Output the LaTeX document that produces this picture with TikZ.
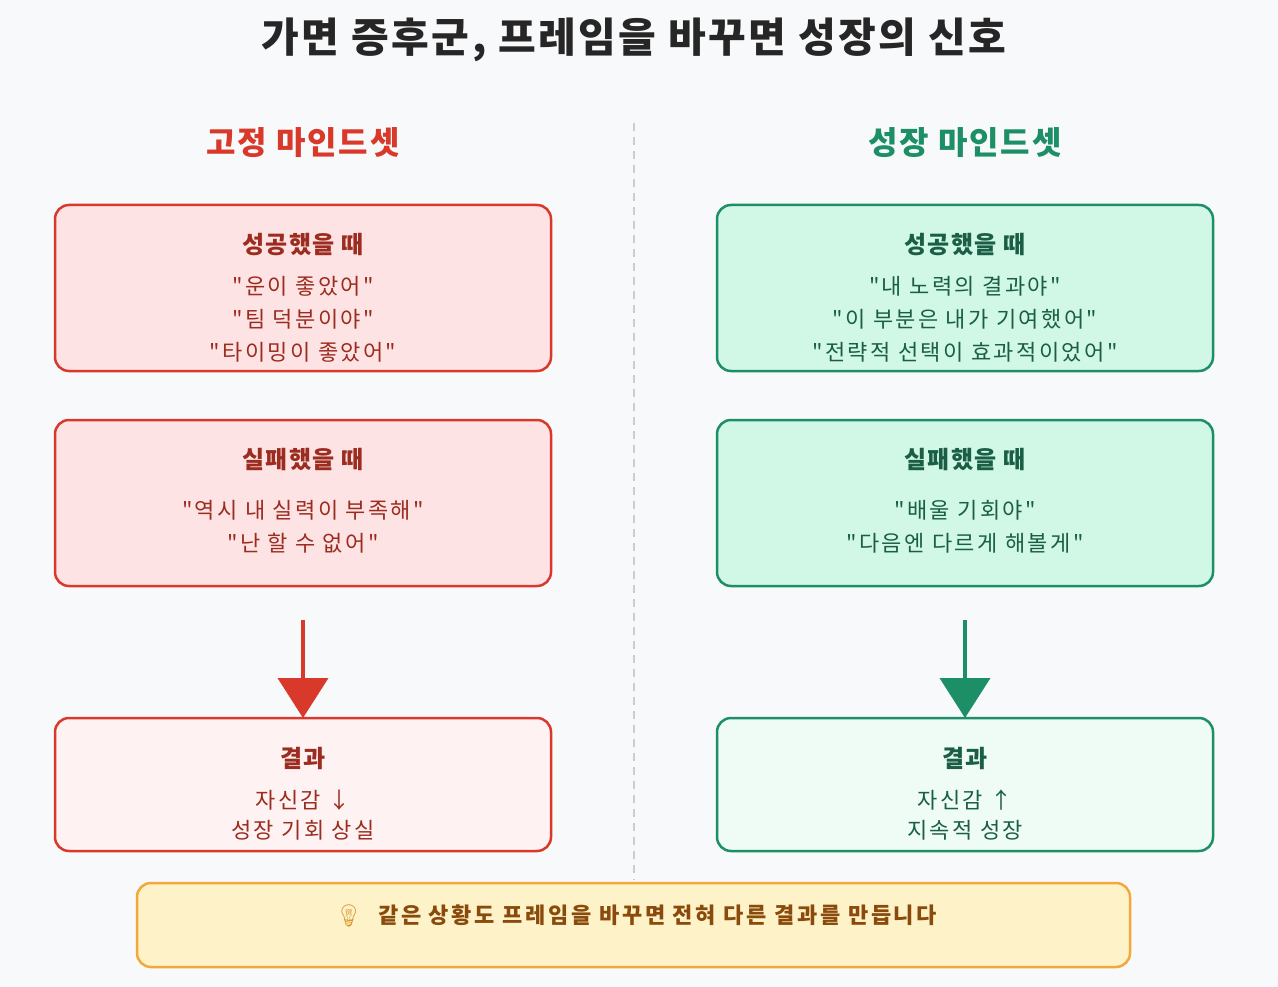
\documentclass[tikz,border=0pt]{standalone}
\usepackage{fontspec}
\setmainfont{Noto Sans CJK KR}[LetterSpace=6,Ligatures=ResetAll]
\newfontfamily\bodyf{Noto Sans CJK KR}[LetterSpace=11,Ligatures=ResetAll]
\newfontfamily\notef{Noto Sans CJK KR}[LetterSpace=12,Ligatures=ResetAll]
\newfontfamily\emo{Noto Emoji}
\usetikzlibrary{arrows.meta}
\definecolor{bg}{HTML}{F8F9FA}
\definecolor{rb}{HTML}{D9392B}
\definecolor{rf}{HTML}{FDE3E3}
\definecolor{rr}{HTML}{FEF2F2}
\definecolor{rt}{HTML}{9B2C1F}
\definecolor{gb}{HTML}{1D8F66}
\definecolor{gf}{HTML}{D1F7E6}
\definecolor{gr}{HTML}{EFFCF5}
\definecolor{gt}{HTML}{1A5E46}
\definecolor{yb}{HTML}{F2A93B}
\definecolor{yf}{HTML}{FEF3C8}
\definecolor{yt}{HTML}{8A4A0C}
\tikzset{
 boxr/.style={draw=rb,fill=rf,line width=2.5pt,rounded corners=14pt},
 boxg/.style={draw=gb,fill=gf,line width=2.5pt,rounded corners=14pt},
 ttl/.style={font=\fontsize{24}{28}\selectfont\bfseries},
 body/.style={font=\bodyf\fontsize{22}{33}\selectfont,align=center},
}
\begin{document}
\begin{tikzpicture}[x=1pt,y=-1pt]
\fill[bg] (0,0) rectangle (1278,987);
\useasboundingbox (0,0) rectangle (1278,987);
\node[font=\fontsize{41}{44}\selectfont\bfseries,text=black!85] (title) at (634,40) {가면 증후군, 프레임을 바꾸면 성장의 신호};
\draw[gray!40,line width=2.5pt,dash pattern=on 8pt off 6pt] (634,123) coordinate (d1) -- (634,880) coordinate (d2);
\node[font=\fontsize{32}{35}\selectfont\bfseries,text=rb] (hl) at (303,143) {고정 마인드셋};
\node[font=\fontsize{32}{35}\selectfont\bfseries,text=gb] (hr) at (965,143) {성장 마인드셋};
% left
\draw[boxr] (55,205) rectangle (551,371);
\node[ttl,text=rt] (l1t) at (303,245) {성공했을 때};
\node[body,text=rt] (l1b) at (303,319) {"운이 좋았어"\\"팀 덕분이야"\\"타이밍이 좋았어"};
\draw[boxr] (55,420) rectangle (551,586);
\node[ttl,text=rt] (l2t) at (303,460) {실패했을 때};
\node[body,text=rt] (l2b) at (303,527) {"역시 내 실력이 부족해"\\"난 할 수 없어"};
\draw[boxr,fill=rr] (55,718) rectangle (551,851);
\node[ttl,text=rt] (l3t) at (303,758) {결과};
\node[body,text=rt,font=\bodyf\fontsize{22}{30}\selectfont] (l3b) at (303,815) {자신감 ↓\\성장 기회 상실};
\coordinate (la) at (303,620); \coordinate (lb) at (303,718);
\draw[rb,line width=4pt,-{Triangle[length=40pt,width=50pt]}] (la) -- (lb);
% right
\draw[boxg] (717,205) rectangle (1213,371);
\node[ttl,text=gt] (r1t) at (965,245) {성공했을 때};
\node[body,text=gt] (r1b) at (965,319) {"내 노력의 결과야"\\"이 부분은 내가 기여했어"\\"전략적 선택이 효과적이었어"};
\draw[boxg] (717,420) rectangle (1213,586);
\node[ttl,text=gt] (r2t) at (965,460) {실패했을 때};
\node[body,text=gt] (r2b) at (965,527) {"배울 기회야"\\"다음엔 다르게 해볼게"};
\draw[boxg,fill=gr] (717,718) rectangle (1213,851);
\node[ttl,text=gt] (r3t) at (965,758) {결과};
\node[body,text=gt,font=\bodyf\fontsize{22}{30}\selectfont] (r3b) at (965,815) {자신감 ↑\\지속적 성장};
\coordinate (ra) at (965,620); \coordinate (rb2) at (965,718);
\draw[gb,line width=4pt,-{Triangle[length=40pt,width=50pt]}] (ra) -- (rb2);
% bottom
\draw[draw=yb,fill=yf,line width=2.5pt,rounded corners=14pt] (137,883) rectangle (1130,967);
\node[font=\notef\fontsize{22}{26}\selectfont\bfseries,text=yt] (note) at (636,916) {{\color{yb!90!black}\emo 💡}\ \ 같은 상황도 프레임을 바꾸면 전혀 다른 결과를 만듭니다};
\end{tikzpicture}
\end{document}
